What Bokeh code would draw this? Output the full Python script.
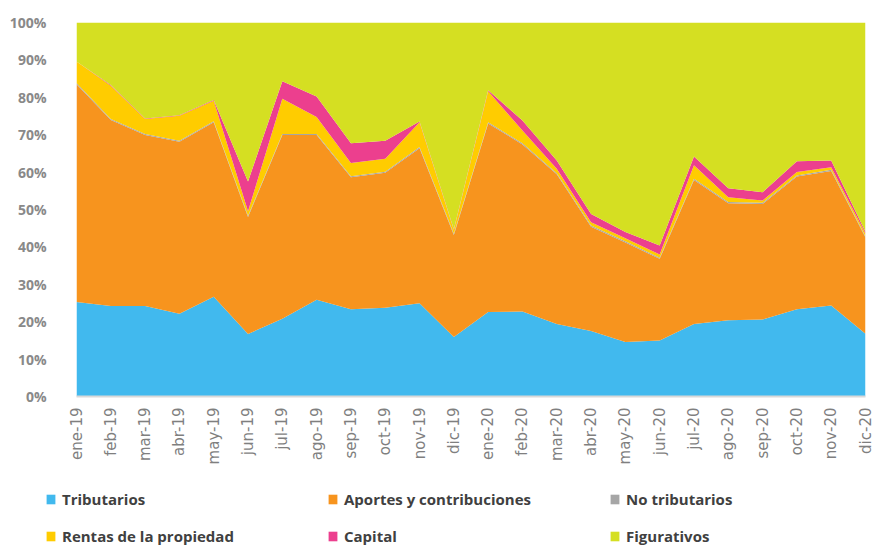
from bokeh.plotting import figure
from bokeh.layouts import column
from bokeh.models import ColumnDataSource, Legend, LegendItem, FixedTicker, PrintfTickFormatter, Range1d
from bokeh.embed import file_html
from bokeh.resources import INLINE
import math

months = ["ene-19", "feb-19", "mar-19", "abr-19", "may-19", "jun-19", "jul-19", "ago-19",
          "sep-19", "oct-19", "nov-19", "dic-19", "ene-20", "feb-20", "mar-20", "abr-20",
          "may-20", "jun-20", "jul-20", "ago-20", "sep-20", "oct-20", "nov-20", "dic-20"]

tributarios = [25.3, 24.2, 24.2, 22.1, 26.7, 16.7, 20.8, 25.9, 23.3, 23.7, 24.9, 15.9,
               22.6, 22.7, 19.4, 17.5, 14.6, 15.0, 19.4, 20.4, 20.6, 23.3, 24.3, 16.8]
aportes = [58.2, 49.7, 45.7, 46.0, 46.6, 31.3, 49.1, 44.0, 35.3, 36.1, 41.5, 27.3,
           50.4, 44.7, 40.0, 27.9, 26.6, 21.8, 38.5, 31.3, 30.9, 35.5, 36.0, 25.7]
no_tributarios = [0.3, 0.3, 0.3, 0.3, 0.3, 0.3, 0.3, 0.3, 0.3, 0.3, 0.3, 0.3,
                  0.3, 0.3, 0.3, 0.3, 0.3, 0.3, 0.3, 0.3, 0.3, 0.3, 0.3, 0.3]
rentas = [5.8, 8.9, 4.0, 6.7, 5.5, 1.2, 9.4, 4.5, 3.5, 3.5, 6.6, 1.0,
          8.3, 3.4, 1.2, 0.9, 0.8, 0.9, 3.6, 1.3, 0.6, 0.9, 0.7, 0.7]
capital = [0.0, 0.2, 0.1, 0.1, 0.2, 8.0, 4.7, 5.5, 5.3, 4.8, 0.2, 0.2,
           0.3, 2.7, 2.2, 2.2, 1.7, 2.4, 2.4, 2.4, 2.2, 2.9, 1.8, 0.5]
figurativos = [10.4, 16.7, 25.7, 24.8, 20.7, 42.5, 15.7, 19.8, 32.3, 31.6, 26.5, 55.3,
               18.1, 26.2, 36.9, 51.2, 56.0, 59.6, 35.8, 44.3, 45.4, 37.1, 36.9, 56.0]

series_names = ["Tributarios", "Aportes y contribuciones", "No tributarios",
                "Rentas de la propiedad", "Capital", "Figurativos"]
series_values = [tributarios, aportes, no_tributarios, rentas, capital, figurativos]
colors = ["#41b9ee", "#f7941e", "#a6a6a6", "#ffcc00", "#ec3f8e", "#d5df22"]
y_ticks = [0, 10, 20, 30, 40, 50, 60, 70, 80, 90, 100]

# normalise to 100 %
totals = [sum(vals[i] for vals in series_values) for i in range(len(months))]
keys = ["s%d" % k for k in range(len(series_names))]
data = {"x": list(range(len(months)))}
for k, vals in zip(keys, series_values):
    data[k] = [v / t * 100 for v, t in zip(vals, totals)]
src = ColumnDataSource(data)

p = figure(width=875, height=468, output_backend="svg", toolbar_location=None,
           x_range=Range1d(0, len(months) - 1), y_range=Range1d(0, 100),
           min_border_left=76, min_border_right=10, min_border_top=22, min_border_bottom=72)
p.outline_line_color = None
p.background_fill_color = "white"
p.xgrid.visible = False
p.ygrid.visible = False

rends = p.varea_stack(stackers=keys, x="x", color=colors, source=src)

# axes
p.yaxis.ticker = FixedTicker(ticks=y_ticks)
p.yaxis.formatter = PrintfTickFormatter(format="%d%%")
p.yaxis.axis_line_color = None
p.yaxis.major_tick_line_color = None
p.yaxis.minor_tick_line_color = None
p.yaxis.major_label_text_font = "Open Sans"
p.yaxis.major_label_text_font_size = "14px"
p.yaxis.major_label_text_font_style = "bold"
p.yaxis.major_label_text_color = "#898989"
p.yaxis.major_label_standoff = 24

p.xaxis.ticker = FixedTicker(ticks=list(range(len(months))))
p.xaxis.major_label_overrides = {i: m for i, m in enumerate(months)}
p.xaxis.major_label_orientation = math.pi / 2
p.xaxis.axis_line_color = "#d9d9d9"
p.xaxis.axis_line_width = 2
p.xaxis.major_tick_line_color = None
p.xaxis.minor_tick_line_color = None
p.xaxis.major_label_text_font = "DejaVu Sans"
p.xaxis.major_label_text_font_size = "15px"
p.xaxis.major_label_text_color = "#7f7f7f"
p.xaxis.major_label_standoff = 5

# legend in its own strip below the chart
lf = figure(width=875, height=79, output_backend="svg", toolbar_location=None,
            x_range=Range1d(0, 1), y_range=Range1d(0, 1),
            min_border_left=0, min_border_right=0, min_border_top=0, min_border_bottom=0)
lf.axis.visible = False
lf.grid.visible = False
lf.outline_line_color = None
aligned = True
try:
    lf.frame_align = False
    p.frame_align = False
    aligned = False
except Exception:
    aligned = True
dummy = [lf.varea(x=[5, 6], y1=[5, 5], y2=[6, 6], fill_color=c) for c in colors]
items = [LegendItem(label=n, renderers=[r]) for n, r in zip(series_names, dummy)]
legend = Legend(items=items, orientation="horizontal", ncols=3,
                location=(45 if not aligned else -31, 1), padding=0, margin=0, spacing=17,
                glyph_width=11, glyph_height=12, label_height=18, label_width=248,
                label_standoff=6, label_text_font="Open Sans", label_text_font_size="15px",
                label_text_font_style="bold",
                label_text_color="#404040", background_fill_alpha=0, border_line_color=None)
lf.add_layout(legend, "center")

layout = column(p, lf, spacing=0)
open("out.html", "w").write(file_html(layout, INLINE))
